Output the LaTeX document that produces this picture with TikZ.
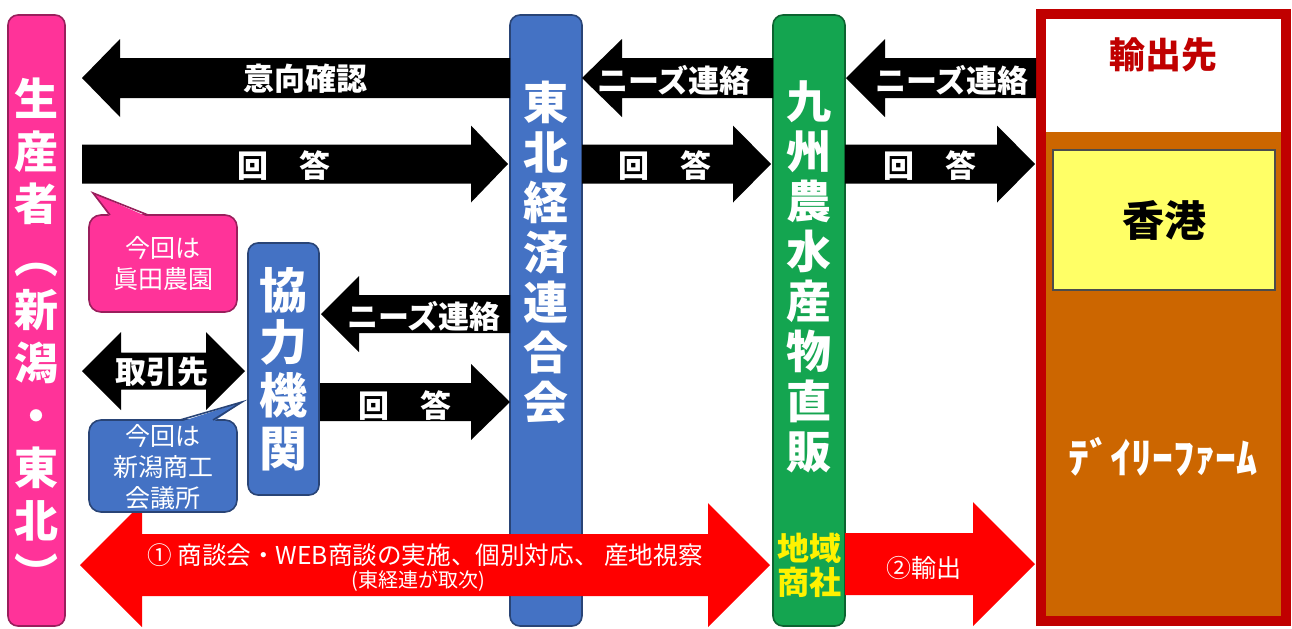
\documentclass[tikz,border=0pt]{standalone}
\usepackage{fontspec}
\setmainfont{Noto Sans CJK JP}

\definecolor{seisanpink}{HTML}{FF3399}
\definecolor{keirenblue}{HTML}{4472C4}
\definecolor{kyushugreen}{HTML}{14A550}
\definecolor{farmbrown}{HTML}{CC6600}
\definecolor{darkred}{HTML}{C00000}
\definecolor{hkyellow}{HTML}{FFFF66}

\tikzset{
  column/.style={draw=#1!60!black, fill=#1, rounded corners=5pt, line width=0.8pt, inner sep=0pt},
  vtext/.style={text=white, align=center, inner sep=0pt},
  onarrow/.style={text=white, font=\bfseries\fontsize{15.5}{18}\selectfont, inner sep=0pt},
  bubbletext/.style={text=white, align=center, inner sep=0pt, font=\fontsize{12.5}{15.5}\selectfont}
}

% tail x, tip x, centre y, shaft half, head half, head length (signed), style
\newcommand{\blockarrow}[7]{%
  \fill[#7] (#1,{#3-#4}) -- ({#2-(#6)},{#3-#4}) -- ({#2-(#6)},{#3-#5}) -- (#2,#3)
    -- ({#2-(#6)},{#3+#5}) -- ({#2-(#6)},{#3+#4}) -- (#1,{#3+#4}) -- cycle;}
% left tip x, right tip x, centre y, shaft half, head half, head length, style
\newcommand{\doublearrow}[7]{%
  \fill[#7] (#1,#3) -- ({#1+#6},{#3-#5}) -- ({#1+#6},{#3-#4}) -- ({#2-#6},{#3-#4})
    -- ({#2-#6},{#3-#5}) -- (#2,#3) -- ({#2-#6},{#3+#5}) -- ({#2-#6},{#3+#4})
    -- ({#1+#6},{#3+#4}) -- ({#1+#6},{#3+#5}) -- cycle;}

\begin{document}
\begin{tikzpicture}[x=0.5pt,y=-0.5pt]
 \useasboundingbox (0,0) rectangle (1292,628);

 % columns
 \node (seisan) [column=seisanpink, minimum width=28.5pt, minimum height=305.5pt] at (36.5,320.5) {};
 \node (tohoku) [column=keirenblue, minimum width=36pt, minimum height=305.5pt] at (546,320.5) {};
 \node (kyushu) [column=kyushugreen, minimum width=36pt, minimum height=305.5pt] at (809,320.5) {};
 \node (kyoryoku) [column=keirenblue, minimum width=35.5pt, minimum height=126pt] at (283.5,369) {};

 \node (seisantext) [vtext, font=\bfseries\fontsize{22}{26.4}\selectfont] at (36.5,334) {生\\産\\者\\︵\\新\\潟\\・\\東\\北\\︶};
 \node (tohokutext) [vtext, font=\bfseries\fontsize{22.5}{25}\selectfont] at (546,252) {東\\北\\経\\済\\連\\合\\会};
 \node (kyushutext) [vtext, font=\bfseries\fontsize{22.5}{25}\selectfont] at (809,277) {九\\州\\農\\水\\産\\物\\直\\販};
 \node (chiiki) [vtext, text=yellow, font=\bfseries\fontsize{16}{17}\selectfont] at (809,565) {地域\\商社};
 \node (kyoryokutext) [vtext, font=\bfseries\fontsize{24}{26.3}\selectfont] at (283.5,369) {協\\力\\機\\関};

 % export destination
 \fill[white] (1036,9) rectangle (1291,626);
 \fill[farmbrown] (1036,132) rectangle (1291,626);
 \node (yushutsu) [draw=darkred, line width=5pt, minimum width=122.5pt, minimum height=303.5pt, inner sep=0pt] at (1163.5,317.5) {};
 \node (dest) [text=darkred, font=\bfseries\fontsize{18}{20}\selectfont] at (1163,55) {輸出先};
 \node (hongkong) [fill=hkyellow, draw=black!70, line width=0.6pt, minimum width=111pt, minimum height=70pt, font=\bfseries\fontsize{21}{24}\selectfont] at (1164,220) {香港};
 \node (farm) [text=white, font=\bfseries\fontsize{21}{24}\selectfont] at (1163,457) {ﾃﾞｲﾘｰﾌｧｰﾑ};

 % black arrows
 \blockarrow{510}{82}{78}{20}{39}{-38}{black}
 \blockarrow{82}{508}{164}{19.5}{38.5}{37}{black}
 \blockarrow{773}{582}{78}{20}{39}{-40}{black}
 \blockarrow{582}{771}{164}{19.5}{38.5}{38}{black}
 \blockarrow{1036}{846}{78}{20}{39}{-39}{black}
 \blockarrow{845}{1035}{164}{19.5}{38.5}{38}{black}
 \blockarrow{510}{321}{314}{19}{38}{-38}{black}
 \blockarrow{320}{510}{402}{19}{38}{39}{black}
 \doublearrow{82}{245}{371}{18.5}{39}{39}{black}

 \node (ikou) [onarrow] at (305,79) {意向確認};
 \node (needs1) [onarrow] at (674,80) {ニーズ連絡};
 \node (needs2) [onarrow] at (952,80) {ニーズ連絡};
 \node (needs3) [onarrow] at (424,316) {ニーズ連絡};
 \node (kaitou1) [onarrow] at (284,166) {回　答};
 \node (kaitou2) [onarrow] at (665,166) {回　答};
 \node (kaitou3) [onarrow] at (930,166) {回　答};
 \node (kaitou4) [onarrow] at (405,406) {回　答};
 \node (torihiki) [onarrow] at (162,372) {取引先};

 % red arrows
 \doublearrow{80}{770}{565}{31}{62}{62}{red}
 \blockarrow{845}{1035}{564}{31}{62}{62}{red}
 \node (shodan) [text=white, inner sep=0pt, font=\fontsize{12.3}{14}\selectfont] at (425,555) {① 商談会・WEB商談の実施、個別対応、 産地視察};
 \node (toritsugi) [text=white, inner sep=0pt, font=\fontsize{10}{12}\selectfont] at (418,581) {(東経連が取次)};
 \node (export) [text=white, inner sep=0pt, font=\fontsize{12.5}{14}\selectfont] at (924,568) {②輸出};

 % speech bubbles
 \filldraw[fill=seisanpink, draw=seisanpink!60!black, line width=0.8pt, rounded corners=6pt] (89,215) rectangle (237,312);
 \fill[seisanpink] (110,217) -- (93,193) -- (148,217) -- cycle;
 \draw[seisanpink!60!black, line width=0.8pt] (110,215) -- (93,193) -- (148,215);
 \node (sanada) [bubbletext] at (163,263) {今回は\\眞田農園};

 \filldraw[fill=keirenblue, draw=keirenblue!60!black, line width=0.8pt, rounded corners=6pt] (89,420) rectangle (237,512);
 \fill[keirenblue] (180,422) -- (242,402) -- (213,422) -- cycle;
 \draw[keirenblue!60!black, line width=0.8pt] (180,420) -- (242,402) -- (213,420);
 \node (shokokai) [bubbletext] at (163,467) {今回は\\新潟商工\\会議所};
\end{tikzpicture}
\end{document}
